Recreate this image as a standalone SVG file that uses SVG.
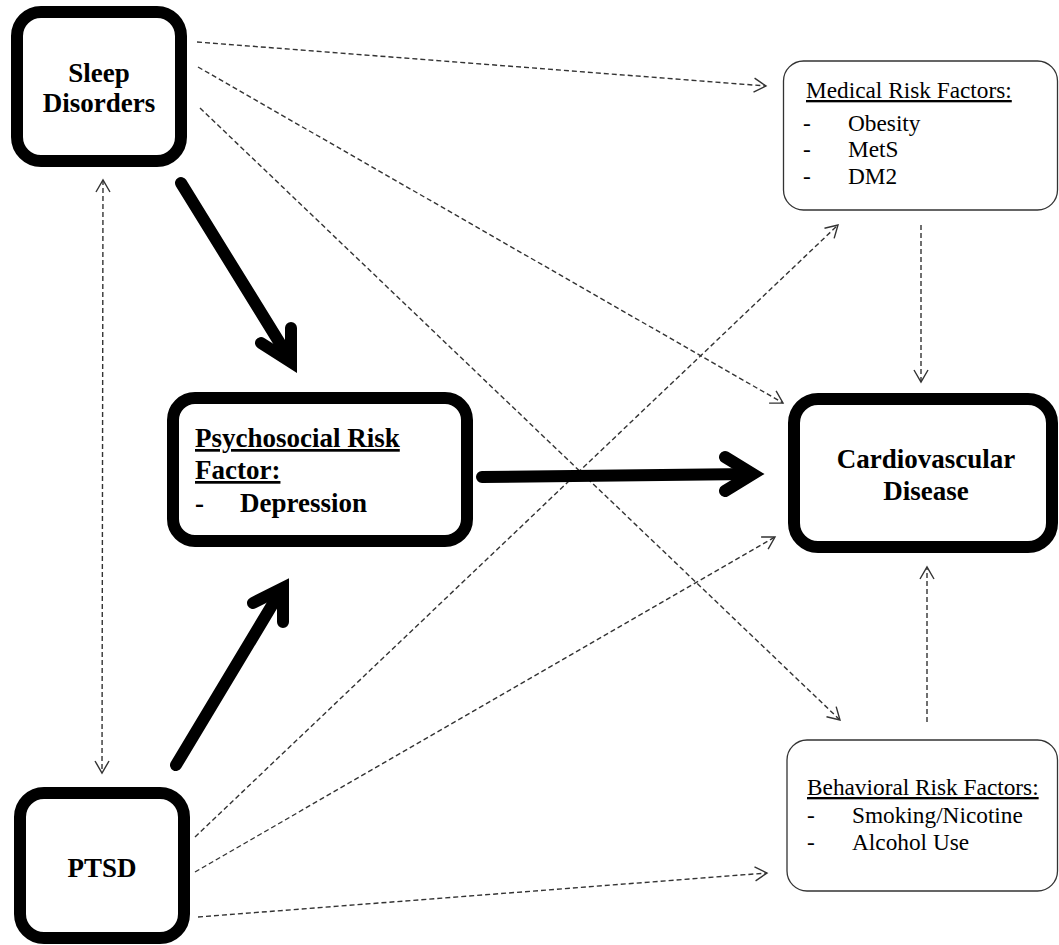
<svg xmlns="http://www.w3.org/2000/svg" width="1059" height="945" viewBox="0 0 1059 945">
  <style>
    .bold-box { fill: #fff; stroke: #000; stroke-width: 12; }
    .thin-box { fill: #fff; stroke: #333; stroke-width: 1.3; }
    .tb { font-family: "Liberation Serif", "Times New Roman", "DejaVu Serif", serif; font-weight: bold; font-size: 27px; fill: #000; }
    .tr { font-family: "Liberation Serif", "Times New Roman", "DejaVu Serif", serif; font-size: 23.3px; fill: #000; }
    .u { text-decoration: underline; }
    .dash { fill: none; stroke: #333; stroke-width: 1.4; stroke-dasharray: 5 3; marker-end: url(#ah); }
    .thick { fill: none; stroke: #000; stroke-width: 12; stroke-linecap: round; }
    .head { fill: none; stroke: #000; stroke-width: 12; stroke-linecap: round; stroke-linejoin: miter; stroke-miterlimit: 10; }
  </style>
  <defs>
    <marker id="ah" markerUnits="userSpaceOnUse" markerWidth="14" markerHeight="14" refX="12" refY="7" orient="auto-start-reverse" overflow="visible">
      <path d="M0,0 L12,7 L0,14" fill="none" stroke="#333" stroke-width="1.4"/>
    </marker>
  </defs>
  <rect width="1059" height="945" fill="#fff"/>

  <g id="connectors">
    <path class="dash" d="M197,42 L766,86"/>
    <path class="dash" d="M198,67 L783,403"/>
    <path class="dash" d="M200,108 L840,720"/>
    <path class="dash" d="M195,837 L838,225"/>
    <path class="dash" d="M195,872 L775,537"/>
    <path class="dash" d="M198,917 L767,873"/>
    <path class="dash" d="M921,225 L921,382"/>
    <path class="dash" d="M927,722 L927,567"/>
    <path class="dash" d="M103,180 L102,773" style="marker-start: url(#ah)"/>

    <line class="thick" x1="181" y1="183" x2="289" y2="358"/>
    <polyline class="head" points="261,343 291,362 291,328"/>
    <line class="thick" x1="176" y1="765" x2="280" y2="592"/>
    <polyline class="head" points="253,603 283,588 283,622"/>
    <line class="thick" x1="482" y1="477" x2="750" y2="474"/>
    <polyline class="head" points="725,457 753,474 725,491"/>
  </g>

  <g id="sleep">
    <rect class="bold-box" x="17" y="12" width="164" height="149" rx="24"/>
    <text class="tb" x="99" y="82" text-anchor="middle">Sleep</text>
    <text class="tb" x="99" y="112" text-anchor="middle">Disorders</text>
  </g>

  <g id="ptsd">
    <rect class="bold-box" x="20" y="793" width="164" height="145" rx="24"/>
    <text class="tb" x="102" y="877" text-anchor="middle">PTSD</text>
  </g>

  <g id="psychosocial">
    <rect class="bold-box" x="173" y="398" width="294" height="143" rx="22"/>
    <text class="tb u" x="195" y="447">Psychosocial Risk</text>
    <text class="tb u" x="195" y="479">Factor:</text>
    <text class="tb" x="195" y="512">-</text>
    <text class="tb" x="240" y="512">Depression</text>
  </g>

  <g id="cvd">
    <rect class="bold-box" x="794" y="399" width="258" height="148" rx="24"/>
    <text class="tb" x="926" y="468" text-anchor="middle">Cardiovascular</text>
    <text class="tb" x="926" y="500" text-anchor="middle">Disease</text>
  </g>

  <g id="medical">
    <rect class="thin-box" x="783.5" y="61" width="274" height="149" rx="20"/>
    <text class="tr u" x="806" y="98">Medical Risk Factors:</text>
    <text class="tr" x="803" y="131">-</text>
    <text class="tr" x="848" y="131">Obesity</text>
    <text class="tr" x="803" y="157">-</text>
    <text class="tr" x="848" y="157">MetS</text>
    <text class="tr" x="803" y="184">-</text>
    <text class="tr" x="848" y="184">DM2</text>
  </g>

  <g id="behavioral">
    <rect class="thin-box" x="787" y="740" width="270.5" height="151" rx="20"/>
    <text class="tr u" x="807" y="795">Behavioral Risk Factors:</text>
    <text class="tr" x="807" y="823">-</text>
    <text class="tr" x="852" y="823">Smoking/Nicotine</text>
    <text class="tr" x="807" y="850">-</text>
    <text class="tr" x="852" y="850">Alcohol Use</text>
  </g>
</svg>
